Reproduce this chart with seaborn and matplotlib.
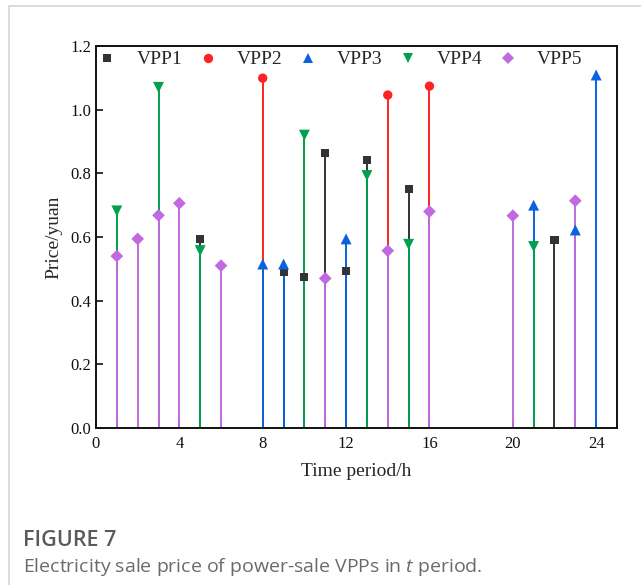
import pandas as pd
import matplotlib
matplotlib.use('Agg')
import matplotlib.pyplot as plt
import seaborn as sns
from matplotlib.lines import Line2D

# hours and prices per VPP
vpp1_h = [5, 9, 10, 11, 12, 13, 15, 22]
vpp1_p = [0.594, 0.491, 0.475, 0.865, 0.494, 0.842, 0.751, 0.591]
vpp2_h = [8, 14, 16]
vpp2_p = [1.099, 1.046, 1.074]
vpp3_h = [8, 9, 12, 21, 23, 24]
vpp3_p = [0.515, 0.515, 0.594, 0.700, 0.622, 1.109]
vpp4_h = [1, 3, 5, 10, 13, 15, 21]
vpp4_p = [0.682, 1.070, 0.557, 0.920, 0.793, 0.577, 0.570]
vpp5_h = [1, 2, 3, 4, 6, 11, 14, 16, 20, 23]
vpp5_p = [0.540, 0.594, 0.668, 0.706, 0.510, 0.470, 0.557, 0.680, 0.667, 0.714]

names = ['VPP1', 'VPP2', 'VPP3', 'VPP4', 'VPP5']
x_ticks = [0, 4, 8, 12, 16, 20, 24]
y_ticks = [0.0, 0.2, 0.4, 0.6, 0.8, 1.0, 1.2]

colors = {'VPP1': '#333333', 'VPP2': '#ff2222', 'VPP3': '#0a62e0',
          'VPP4': '#00a04c', 'VPP5': '#c06ae2'}
markers = {'VPP1': 's', 'VPP2': 'o', 'VPP3': '^', 'VPP4': 'v', 'VPP5': 'D'}
msizes = {'VPP1': 34, 'VPP2': 45, 'VPP3': 62, 'VPP4': 62, 'VPP5': 42}

series = [(vpp1_h, vpp1_p), (vpp2_h, vpp2_p), (vpp3_h, vpp3_p),
          (vpp4_h, vpp4_p), (vpp5_h, vpp5_p)]
frames = []
for name, (h, p) in zip(names, series):
    frames.append(pd.DataFrame({'hour': h, 'price': p, 'VPP': name}))
df = pd.concat(frames, ignore_index=True)

sns.set_style('ticks')
plt.rcParams['font.family'] = ['Liberation Serif', 'DejaVu Serif']
plt.rcParams['mathtext.fontset'] = 'custom'
plt.rcParams['mathtext.it'] = 'Open Sans:italic'
plt.rcParams['mathtext.rm'] = 'Open Sans'

fig = plt.figure(figsize=(6.41, 5.85), dpi=100)
ax = fig.add_axes([96 / 641, 1 - 428 / 585, 521 / 641, 382 / 585])

# stems, later series drawn on top
for name in names:
    sub = df[df['VPP'] == name]
    ax.vlines(sub['hour'], 0, sub['price'], colors=colors[name], lw=1.4, zorder=2)

sns.scatterplot(data=df, x='hour', y='price', hue='VPP', style='VPP', size='VPP',
                palette=colors, markers=markers, sizes=msizes, linewidth=0,
                ax=ax, zorder=3)

ax.set_xlim(0, 25)
ax.set_ylim(0, 1.2)
ax.set_xticks(x_ticks)
ax.set_yticks(y_ticks)
ax.set_yticklabels([f'{v:.1f}' for v in y_ticks])
ax.tick_params(direction='in', length=5, width=1.2, labelsize=12, colors='#111111')
ax.tick_params(axis='x', pad=6)
for sp in ax.spines.values():
    sp.set_linewidth(1.4)
    sp.set_color('#111111')
ax.set_xlabel('Time period/h', fontsize=14, labelpad=8)
ax.set_ylabel('Price/yuan', fontsize=14, labelpad=6)

sns.move_legend(ax, 'upper left', bbox_to_anchor=(-0.006, 1.0), ncol=5,
                title=None, frameon=False, fontsize=14, handlelength=1.0,
                handletextpad=1.0, columnspacing=0.8, borderpad=0.25,
                borderaxespad=0)

# card frame and caption
fig.add_artist(Line2D([9 / 641, 1], [1 - 6 / 585, 1 - 6 / 585], color='#d4d4d4', lw=1.2))
fig.add_artist(Line2D([9 / 641, 9 / 641], [0, 1 - 6 / 585], color='#d4d4d4', lw=1.2))
fig.text(23 / 641, 1 - 541 / 585, 'FIGURE 7', family='Open Sans', weight='semibold',
         fontsize=15.5, color='#5a5a5a', va='center')
fig.text(23 / 641, 1 - 567 / 585, 'Electricity sale price of power-sale VPPs in $t$ period.',
         family='Open Sans', fontsize=14, color='#6a6a6a', va='center')

fig.savefig('out.png', dpi=100)
